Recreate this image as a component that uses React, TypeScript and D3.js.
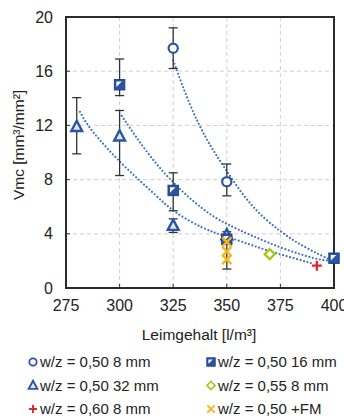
import React from 'react';
import * as d3 from 'd3';

// Leimgehalt [l/m³] vs Vmc [mm³/mm²]
const xTicks = [275, 300, 325, 350, 375, 400];
const yTicks = [0, 4, 8, 12, 16, 20];

const circles8 = [[325, 17.7], [350, 7.85]];
const squares16 = [[300, 15.0], [325, 7.2], [350, 3.6], [400, 2.2]];
const triangles32 = [[280, 11.9], [300, 11.2], [325, 4.6], [350, 3.9]];
const diamonds055 = [[370, 2.5]];
const plus060 = [[392, 1.65]];
const crossFM = [[350, 3.4], [350, 2.7], [350, 2.1]];

// [x, low, high]
const errorBars = [
  [280, 9.9, 14.05],
  [300, 8.3, 13.1],
  [300, 14.2, 16.9],
  [325, 16.2, 19.2],
  [325, 5.7, 8.5],
  [325, 4.1, 5.1],
  [350, 6.8, 9.15],
  [350, 1.4, 4.15],
];

// trend lines
const fit8 = [[325, 16.8], [332.8, 13.4], [340.6, 10.9], [348.4, 9.0], [361, 6.0], [374.8, 4.15], [385.6, 3.05], [398, 2.1]];
const fit16 = [[301, 12.7], [313, 9.9], [325, 7.7], [340, 5.6], [350, 4.7], [361, 3.9], [376, 2.9], [392, 2.1], [398, 2.0]];
const fit32 = [[281.5, 13.0], [286, 11.7], [301.7, 9.0], [317.3, 6.8], [325, 5.6], [340, 4.3], [347, 3.95], [361, 3.2], [370, 2.7], [390, 1.8]];

const legendItems = [
  { key: 'circle', label: 'w/z = 0,50 8 mm' },
  { key: 'square', label: 'w/z = 0,50 16 mm' },
  { key: 'triangle', label: 'w/z = 0,50 32 mm' },
  { key: 'diamond', label: 'w/z = 0,55 8 mm' },
  { key: 'plus', label: 'w/z = 0,60 8 mm' },
  { key: 'cross', label: 'w/z = 0,50 +FM' },
];

const BLUE = '#2a55a5';
const DOT = '#3a72c4';
const GREEN = '#a9c617';
const RED = '#e2262b';
const ORANGE = '#f4b61c';

function Marker({ kind, x, y, s = 1 }) {
  if (kind === 'circle') {
    return <circle cx={x} cy={y} r={4.6 * s} fill="white" stroke={BLUE} strokeWidth={2.2 * s} />;
  }
  if (kind === 'square') {
    const h = 5.2 * s;
    return (
      <g>
        <rect x={x - h} y={y - h} width={2 * h} height={2 * h} fill={BLUE} stroke="#1f3f8a" strokeWidth={1} />
        <path d={`M${x - h + 2 * s},${y - h + 2 * s}L${x + h - 3 * s},${y - h + 2 * s}L${x - h + 2 * s},${y + h - 3 * s}Z`} fill="white" />
      </g>
    );
  }
  if (kind === 'triangle') {
    const h = 6 * s;
    return (
      <path d={`M${x},${y - h}L${x + h * 0.9},${y + h * 0.7}L${x - h * 0.9},${y + h * 0.7}Z`}
        fill="#dfe8f7" stroke={BLUE} strokeWidth={2.4 * s} strokeLinejoin="miter" />
    );
  }
  if (kind === 'diamond') {
    const h = 5 * s;
    return <path d={`M${x},${y - h}L${x + h},${y}L${x},${y + h}L${x - h},${y}Z`} fill="white" stroke={GREEN} strokeWidth={2.2 * s} />;
  }
  if (kind === 'plus') {
    const h = 5 * s;
    return <path d={`M${x - h},${y}L${x + h},${y}M${x},${y - h}L${x},${y + h}`} stroke={RED} strokeWidth={2.4 * s} />;
  }
  const h = 4.6 * s;
  return <path d={`M${x - h},${y - h}L${x + h},${y + h}M${x + h},${y - h}L${x - h},${y + h}`} stroke={ORANGE} strokeWidth={2.4 * s} />;
}

export default function App() {
  const width = 344;
  const height = 418;
  const left = 66, right = 334, top = 17, bottom = 288;

  const x = d3.scaleLinear().domain([275, 400]).range([left, right]);
  const y = d3.scaleLinear().domain([0, 20]).range([bottom, top]);

  const line = d3.line<number[]>()
    .x(d => x(d[0]))
    .y(d => y(d[1]))
    .curve(d3.curveBasis);

  const font = 'Liberation Sans, Arial, sans-serif';

  return (
    <svg width={width} height={height} style={{ position: 'absolute', left: 0, top: 0, background: 'white' }}
      fontFamily={font}>
      {/* grid */}
      {xTicks.slice(1, -1).map(t => (
        <line key={'gx' + t} x1={x(t)} x2={x(t)} y1={top} y2={bottom} stroke="#cfcfcf" strokeWidth={1} strokeDasharray="4 3" />
      ))}
      {yTicks.slice(1, -1).map(t => (
        <line key={'gy' + t} x1={left} x2={right} y1={y(t)} y2={y(t)} stroke="#cfcfcf" strokeWidth={1} strokeDasharray="4 3" />
      ))}

      {/* inner ticks */}
      {xTicks.slice(1, -1).map(t => (
        <line key={'tx' + t} x1={x(t)} x2={x(t)} y1={bottom} y2={bottom - 4} stroke="#333" strokeWidth={1} />
      ))}
      {yTicks.slice(1, -1).map(t => (
        <line key={'ty' + t} x1={left} x2={left + 4} y1={y(t)} y2={y(t)} stroke="#333" strokeWidth={1} />
      ))}

      {/* frame */}
      <rect x={left} y={top} width={right - left} height={bottom - top} fill="none" stroke="#2b2b2b" strokeWidth={2} />

      {/* tick labels */}
      {xTicks.map(t => (
        <text key={'lx' + t} x={x(t)} y={311} textAnchor="middle" fontSize={16} fill="#222">{t}</text>
      ))}
      {yTicks.map(t => (
        <text key={'ly' + t} x={53} y={y(t) + 5.5} textAnchor="end" fontSize={16} fill="#222">{t}</text>
      ))}

      {/* axis titles */}
      <text transform={`translate(24,${145}) rotate(-90)`} textAnchor="middle" fontSize={15.5} fill="#222">
        Vmc  [mm³/mm²]
      </text>
      <text x={199} y={340} textAnchor="middle" fontSize={15.5} fill="#222">Leimgehalt [l/m³]</text>

      {/* trend lines */}
      {[fit8, fit16, fit32].map((f, i) => (
        <path key={'fit' + i} d={line(f) || ''} fill="none" stroke={DOT} strokeWidth={2.2}
          strokeDasharray="0 3.6" strokeLinecap="round" />
      ))}

      {/* error bars */}
      {errorBars.map(([xv, lo, hi], i) => (
        <g key={'eb' + i} stroke="#333" strokeWidth={1.3}>
          <line x1={x(xv)} x2={x(xv)} y1={y(lo)} y2={y(hi)} />
          <line x1={x(xv) - 4.5} x2={x(xv) + 4.5} y1={y(lo)} y2={y(lo)} />
          <line x1={x(xv) - 4.5} x2={x(xv) + 4.5} y1={y(hi)} y2={y(hi)} />
        </g>
      ))}

      {/* markers */}
      {triangles32.map((d, i) => <Marker key={'t' + i} kind="triangle" x={x(d[0])} y={y(d[1])} />)}
      {squares16.map((d, i) => <Marker key={'s' + i} kind="square" x={x(d[0])} y={y(d[1])} />)}
      {crossFM.map((d, i) => <Marker key={'x' + i} kind="cross" x={x(d[0])} y={y(d[1])} />)}
      {circles8.map((d, i) => <Marker key={'c' + i} kind="circle" x={x(d[0])} y={y(d[1])} />)}
      {diamonds055.map((d, i) => <Marker key={'d' + i} kind="diamond" x={x(d[0])} y={y(d[1])} />)}
      {plus060.map((d, i) => <Marker key={'p' + i} kind="plus" x={x(d[0])} y={y(d[1])} />)}

      {/* legend */}
      {legendItems.map((it, i) => {
        const col = i % 2;
        const row = Math.floor(i / 2);
        const mx = col === 0 ? 33 : 211;
        const cy = 362 + row * 23.5;
        return (
          <g key={'lg' + i}>
            <Marker kind={it.key} x={mx} y={cy} s={0.8} />
            <text x={mx + 7} y={cy + 5} fontSize={15} fill="#222">{it.label}</text>
          </g>
        );
      })}
    </svg>
  );
}
